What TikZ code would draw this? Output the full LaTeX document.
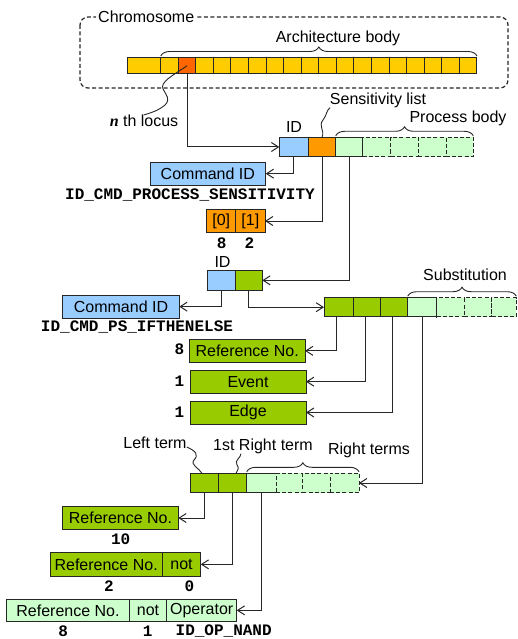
\documentclass[tikz,border=0pt]{standalone}
\usepackage{fontspec}
\setmainfont{Liberation Sans}
\newfontfamily\monob{Liberation Mono}
\newfontfamily\serifi{Liberation Serif}
\usetikzlibrary{arrows.meta,decorations.pathreplacing}
\definecolor{chy}{HTML}{FFCC00}
\definecolor{loc}{HTML}{FF6600}
\definecolor{sens}{HTML}{FF9900}
\definecolor{idb}{HTML}{99CCFF}
\definecolor{dg}{HTML}{99CC00}
\definecolor{lg}{HTML}{CCFFCC}
\newcommand\mkcell[7]{\node[cell,#6,minimum width={(#4-#2)*1pt},minimum height={(#5-#3)*1pt}] (#1) at (#2,#3) {#7};}
\begin{document}
\begin{tikzpicture}[x=1pt,y=-1pt,
  font=\fontsize{16}{18}\selectfont,
  cell/.style={draw=black!85, line width=1pt, inner sep=0pt, outer sep=0pt, anchor=north west},
  dcell/.style={cell, dash pattern=on 4pt off 2.2pt},
  arr/.style={-{Straight Barb[length=7pt,width=9pt]}, line width=1pt, draw=black!85},
  sq/.style={line width=0.9pt, draw=black!85},
  br/.style={line width=0.9pt, draw=black!85, decorate, decoration={brace, amplitude=9pt}},
  mono/.style={font=\monob\bfseries\fontsize{16}{18}\selectfont, inner sep=0pt},
  lbl/.style={inner sep=0pt}]
\useasboundingbox (0,0) rectangle (517,639);

% chromosome frame
\draw[line width=1.2pt, draw=black!85, dash pattern=on 4pt off 2.5pt, rounded corners=8pt] (80,17) rectangle (508,88);
\node[fill=white, inner sep=2pt, anchor=west] (chromlbl) at (96,17) {Chromosome};

% chromosome bar
\mkcell{ch0}{127}{57.5}{160.7}{74}{fill=chy}{}
\foreach \i in {1,...,18}{
  \ifnum\i=2 \def\cc{loc}\else\def\cc{chy}\fi
  \pgfmathsetmacro\xa{160.7+(\i-1)*17.57}
  \node[cell, fill=\cc, minimum width=17.57pt, minimum height=16.5pt] (ch\i) at (\xa,57.5) {};
}
\path (ch1.north west) ++(0,-1.5) coordinate (abL) (ch18.north east) ++(0,-1.5) coordinate (abR);
\draw[br] (abL) -- (abR);
\node[lbl] (archlbl) at (338,38) {Architecture body};

% n th locus
\node[lbl] (locus) at (144,121) {{\serifi\bfseries\itshape n} th locus};
\draw[sq] (ch2.center) .. controls (172,76) and (160,82) .. (163,89) .. controls (166,95) and (171,99) .. (165,105) .. controls (160,109) and (157,111) .. (locus.north);

% row 1
\mkcell{id1}{279.3}{137.3}{308.3}{156.7}{fill=idb}{}
\mkcell{sl}{308.3}{137.3}{335.7}{156.7}{fill=sens}{}
\mkcell{pb0}{335.7}{137.3}{362.7}{156.7}{fill=lg}{}
\mkcell{pb1}{362.7}{137.3}{390.7}{156.7}{fill=lg,dcell}{}
\mkcell{pb2}{390.7}{137.3}{418.3}{156.7}{fill=lg,dcell}{}
\mkcell{pb3}{418.3}{137.3}{446}{156.7}{fill=lg,dcell}{}
\mkcell{pb4}{446}{137.3}{473.3}{156.7}{fill=lg,dcell}{}
\node[lbl] (idlbl1) at (294,127) {ID};
\node[lbl] (senslbl) at (378,100) {Sensitivity list};
\node[lbl] (pblbl) at (458,118) {Process body};
\draw[sq] (sl.north) .. controls (325,130) and (318,126) .. (323,120) .. controls (327,115) and (326,111) .. (senslbl.south -| 330,0);
\path (pb0.north west) ++(0,-1.5) coordinate (pbL) (pb4.north east) ++(0,-1.5) coordinate (pbR);
\draw[br] (pbL) -- (pbR);
\draw[arr] (ch2.south) |- (id1.west);

% command ID 1
\mkcell{cmd1}{150}{162.3}{265.7}{185}{fill=idb}{Command ID}
\node[mono] (cmdname1) at (190,195) {ID\_CMD\_PROCESS\_SENSITIVITY};
\draw[arr] (id1.south) |- (cmd1.east);

% sensitivity list values
\mkcell{o0}{206.7}{209.3}{235.7}{232.7}{fill=sens}{[0]}
\mkcell{o1}{235.7}{209.3}{265}{232.7}{fill=sens}{[1]}
\node[mono] (o0v) at (221.7,243) {8};
\node[mono] (o1v) at (249.5,243) {2};
\draw[arr] (sl.south) |- (o1.east);

% row 2
\mkcell{idb2}{207.7}{270.7}{235}{290}{fill=idb}{}
\mkcell{idg}{235}{270.7}{262.3}{290}{fill=dg}{}
\node[lbl] (idlbl2) at (222.5,262) {ID};
\draw[arr] (pb0.south) |- (idg.east);
\mkcell{cmd2}{62.7}{295}{179.3}{318.3}{fill=idb}{Command ID}
\node[mono] (cmdname2) at (137,327) {ID\_CMD\_PS\_IFTHENELSE};
\draw[arr] (idb2.south) |- (cmd2.east);

% substitution row
\mkcell{s0}{324}{297.7}{353.3}{316.7}{fill=dg}{}
\mkcell{s1}{353.3}{297.7}{380.7}{316.7}{fill=dg}{}
\mkcell{s2}{380.7}{297.7}{407.7}{316.7}{fill=dg}{}
\mkcell{s3}{407.7}{297.7}{436.7}{316.7}{fill=lg}{}
\mkcell{s4}{436.7}{297.7}{464.3}{316.7}{fill=lg,dcell}{}
\mkcell{s5}{464.3}{297.7}{491.7}{316.7}{fill=lg,dcell}{}
\mkcell{s6}{491.7}{297.7}{516.3}{316.7}{fill=lg,dcell}{}
\node[lbl] (sublbl) at (465,275) {Substitution};
\path (s3.north west) ++(0,-1.5) coordinate (sbL) (s6.north east) ++(0,-1.5) coordinate (sbR);
\draw[br] (sbL) -- (sbR);
\draw[arr] (idg.south) |- (s0.west);

\mkcell{refA}{189.3}{339}{305}{362.7}{fill=dg}{Reference No.}
\mkcell{event}{190}{370}{306}{393.3}{fill=dg}{Event}
\mkcell{edge}{190}{401}{306}{424}{fill=dg}{Edge}
\node[mono] (refAv) at (179.3,349.5) {8};
\node[mono] (eventv) at (179.3,381.5) {1};
\node[mono] (edgev) at (179.3,412.5) {1};
\draw[arr] ([xshift=-2pt]s0.south) |- (refA.east);
\draw[arr] ([xshift=-2pt]s1.south) |- (event.east);
\draw[arr] ([xshift=-1.5pt]s2.south) |- (edge.east);

% row 3
\mkcell{r0}{190}{473.3}{218.3}{492.7}{fill=dg}{}
\mkcell{r1}{218.3}{473.3}{246.7}{492.7}{fill=dg}{}
\mkcell{r2}{246.7}{473.3}{276}{492.7}{fill=lg}{}
\mkcell{r3}{276}{473.3}{302.3}{492.7}{fill=lg,dcell}{}
\mkcell{r4}{302.3}{473.3}{330}{492.7}{fill=lg,dcell}{}
\mkcell{r5}{330}{473.3}{359}{492.7}{fill=lg,dcell}{}
\draw[arr] (s3.south) |- (r5.east);
\node[lbl] (leftlbl) at (155,443) {Left term};
\node[lbl] (firstlbl) at (263,446) {1st Right term};
\node[lbl] (rightlbl) at (369,450) {Right terms};
\draw[sq] (leftlbl.east) ++(0,4) .. controls (196,451) and (199,455) .. (194,460) .. controls (190,465) and (199,468) .. (r0.north -| 202,0);
\draw[sq] (firstlbl.south -| 241,0) .. controls (241,458) and (234,460) .. (237,465) .. controls (240,468) and (237,471) .. (r1.north -| 236,0);
\path (r2.north west) ++(0,-1.5) coordinate (rtL) (r5.north east) ++(0,-1.5) coordinate (rtR);
\draw[br] (rtL) -- (rtR);

% operands
\mkcell{refB}{62.7}{506.7}{178.3}{529.3}{fill=dg}{Reference No.}
\node[mono] (refBv) at (120.7,539) {10};
\draw[arr] (r0.south) |- (refB.east);

\mkcell{rc0}{50}{552.7}{162.3}{576}{fill=dg}{Reference No.}
\mkcell{rc1}{162.3}{552.7}{200.7}{576}{fill=dg}{not}
\node[mono] (rc0v) at (109,586) {2};
\node[mono] (rc1v) at (189.3,586) {0};
\draw[arr] (r1.south) |- (rc1.east);

\mkcell{rd0}{6.7}{599}{129.3}{621.7}{fill=lg}{Reference No.}
\mkcell{rd1}{129.3}{599}{166.7}{621.7}{fill=lg}{not}
\mkcell{rd2}{166.7}{599}{236.7}{621.7}{fill=lg}{Operator}
\node[mono] (rd0v) at (63.3,631) {8};
\node[mono] (rd1v) at (147.7,631) {1};
\node[mono] (rd2v) at (223.7,631) {ID\_OP\_NAND};
\draw[arr] (r2.south) |- (rd2.east);
\end{tikzpicture}
\end{document}
